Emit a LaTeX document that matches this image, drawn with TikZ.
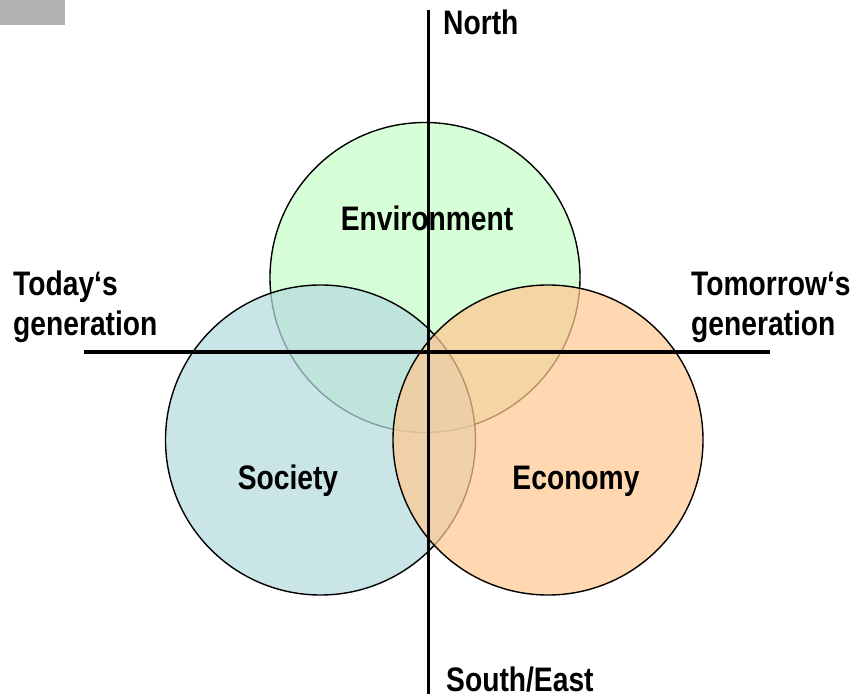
\documentclass[tikz,border=0pt]{standalone}
\usepackage{fontspec}
\setmainfont{Liberation Sans}[FakeStretch=0.83]
\begin{document}
\begin{tikzpicture}[x=1pt,y=-1pt,
  ring/.style={circle,draw=black,line width=1.4pt,minimum size=310pt,inner sep=0pt,fill opacity=0.72},
  axis/.style={line width=3.6pt,line cap=butt},
  lab/.style={font=\fontsize{34}{40}\selectfont\bfseries,inner sep=0pt,text=black},
  side/.style={lab,align=left,anchor=west}]
\useasboundingbox (0,0) rectangle (852,700);
\fill[fill=black!30] (0,0) rectangle (65,25);
\definecolor{envc}{RGB}{200,255,200}
\definecolor{socc}{RGB}{182,219,222}
\definecolor{ecoc}{RGB}{255,200,145}
\node[ring,fill=envc] (env) at (425,277.5) {};
\node[ring,fill=socc] (soc) at (320.5,440) {};
\node[ring,fill=ecoc] (eco) at (548,440) {};
\coordinate (ntop) at (428.5,10);
\coordinate (nbot) at (428.5,694);
\coordinate (wl) at (84,352);
\coordinate (wr) at (770,352);
\draw[axis] (ntop) -- (nbot);
\draw[axis] (wl) -- (wr);
\node[lab,anchor=west] (north) at (443,22) {North};
\node[lab,anchor=west] (south) at (446,680) {South/East};
\node[side] (today) at (13,307) {Today‘s\\generation};
\node[side] (tomorrow) at (691,307) {Tomorrow‘s\\generation};
\node[lab] (envl) at (427,218) {Environment};
\node[lab] (socl) at (288,481) {Society};
\node[lab] (ecol) at (576,481) {Economy};
\end{tikzpicture}
\end{document}
